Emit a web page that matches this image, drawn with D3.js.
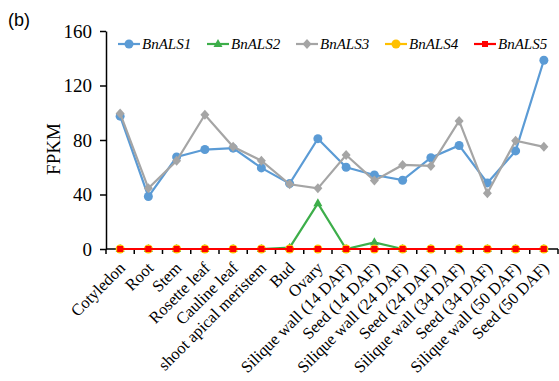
<!DOCTYPE html>
<html><head><meta charset="utf-8">
<script src="https://cdn.jsdelivr.net/npm/d3@7"></script>
<style>body{margin:0;background:#fff;} svg{display:block;} text{font-family:"Liberation Serif","Times New Roman",serif;}</style>
</head><body>
<svg id="c" width="559" height="381"></svg>
<script>
const categories = ["Cotyledon","Root","Stem","Rosette leaf","Cauline leaf","shoot apical meristem","Bud","Ovary","Silique wall (14 DAF)","Seed (14 DAF)","Silique wall (24 DAF)","Seed (24 DAF)","Silique wall (34 DAF)","Seed (34 DAF)","Silique wall (50 DAF)","Seed (50 DAF)"];
const BnALS1 = [97.5,38.5,67.5,73,74,59.5,48,81,60,54.3,50.5,67,76,48.5,72,138.5];
const BnALS2 = [0,0,0,0,0,0,1,33.5,0,4.9,0,0,0,0,0,0];
const BnALS3 = [99.5,44.5,64.8,98.5,75,64.8,47.5,44.5,69,50.2,61.7,61,94,41,79.5,75];
const BnALS4 = [0,0,0,0,0,0,0,0,0,0,0,0,0,0,0,0];
const BnALS5 = [0,0,0,0,0,0,0,0,0,0,0,0,0,0,0,0];
const yTicks = [0,40,80,120,160];
const seriesNames = ["BnALS1","BnALS2","BnALS3","BnALS4","BnALS5"];

const series = [
  {name:seriesNames[0], values:BnALS1, color:"#5B9BD5", marker:"circle"},
  {name:seriesNames[1], values:BnALS2, color:"#3DAE4A", marker:"triangle"},
  {name:seriesNames[2], values:BnALS3, color:"#A5A5A5", marker:"diamond"},
  {name:seriesNames[3], values:BnALS4, color:"#FFC000", marker:"circle"},
  {name:seriesNames[4], values:BnALS5, color:"#FF0000", marker:"square"}
];

const svg = d3.select("#c");
const mLeft = 106, mRight = 558, mTop = 31, mBottom = 249;
const x = d3.scaleBand().domain(categories).range([mLeft,mRight]);
const y = d3.scaleLinear().domain([0,160]).range([mBottom,mTop]);
const serif = '"Liberation Serif","Times New Roman",serif';

svg.append("text").attr("x",8).attr("y",26).style("font-family","'Liberation Sans',Arial,sans-serif")
  .style("font-size","18px").text("(b)");

// y axis
const ya = svg.append("g").attr("transform",`translate(${mLeft},0)`)
  .call(d3.axisLeft(y).tickValues(yTicks).tickSize(6).tickSizeOuter(0).tickPadding(8));
ya.attr("font-family",null).attr("font-size",null);
ya.select(".domain").attr("stroke","#000").attr("stroke-width",1.5);
ya.selectAll(".tick line").attr("stroke","#000").attr("stroke-width",1.5);
ya.selectAll(".tick text").style("font-family",serif).style("font-size","19px").attr("fill","#000").attr("dy","0.34em");

svg.append("text").attr("transform",`translate(60,${(mTop+mBottom)/2+9}) rotate(-90)`)
  .attr("text-anchor","middle").style("font-family",serif).style("font-size","19px").text("FPKM");

// x axis
svg.append("line").attr("x1",mLeft).attr("x2",mRight).attr("y1",mBottom).attr("y2",mBottom)
  .attr("stroke","#000").attr("stroke-width",1.5);
const bounds = d3.range(categories.length+1).map(i => mLeft + i*x.step());
svg.selectAll(".xt").data(bounds).join("line").attr("x1",d=>d).attr("x2",d=>d)
  .attr("y1",mBottom).attr("y2",mBottom+5).attr("stroke","#000").attr("stroke-width",1.5);
svg.selectAll(".xl").data(categories).join("text")
  .attr("transform",d=>`translate(${x(d)+x.bandwidth()/2+6},${mBottom+20}) rotate(-45)`)
  .attr("text-anchor","end").style("font-family",serif).style("font-size","16.5px").text(d=>d);

const cx = d => x(d)+x.bandwidth()/2;
const line = d3.line().x((v,i)=>cx(categories[i])).y(v=>y(v));

function drawMarker(g, type, color, px, py){
  if(type==="circle") g.append("circle").attr("cx",px).attr("cy",py).attr("r",4.5).attr("fill",color);
  else if(type==="triangle") g.append("path").attr("d",`M${px},${py-5}L${px+4.5},${py+3}L${px-4.5},${py+3}Z`).attr("fill",color);
  else if(type==="diamond") g.append("path").attr("d",`M${px},${py-5}L${px+4.5},${py}L${px},${py+5}L${px-4.5},${py}Z`).attr("fill",color);
  else if(type==="square") g.append("rect").attr("x",px-3).attr("y",py-3).attr("width",6).attr("height",6).attr("fill",color);
}

series.forEach(s=>{
  const g = svg.append("g");
  g.append("path").attr("d",line(s.values)).attr("fill","none").attr("stroke",s.color).attr("stroke-width",2.2);
  s.values.forEach((v,i)=>drawMarker(g,s.marker,s.color,cx(categories[i]),y(v)));
});

// legend
const legX = [118,207,296,385,474];
series.forEach((s,i)=>{
  const g = svg.append("g");
  const lx = legX[i], ly = 44;
  g.append("line").attr("x1",lx).attr("x2",lx+22).attr("y1",ly).attr("y2",ly).attr("stroke",s.color).attr("stroke-width",2.2);
  drawMarker(g,s.marker,s.color,lx+11,ly);
  g.append("text").attr("x",lx+24).attr("y",ly+5).style("font-family",serif).style("font-style","italic")
    .style("font-size","15px").text(s.name);
});
</script>
</body></html>
